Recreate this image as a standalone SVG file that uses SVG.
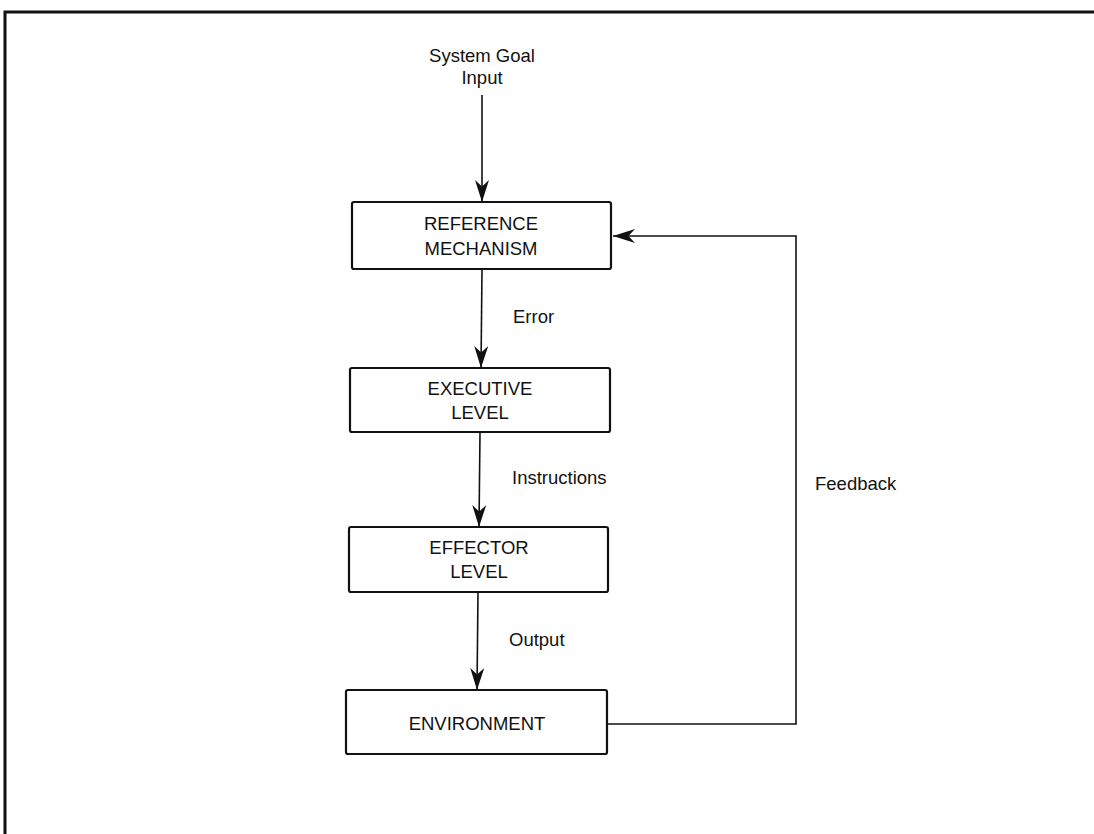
<svg xmlns="http://www.w3.org/2000/svg" width="1094" height="834" viewBox="0 0 1094 834">
<style>
.box{fill:#fff;stroke:#111;stroke-width:2.2}
.ln{fill:none;stroke:#111;stroke-width:1.6}
.t{font-family:"Liberation Sans",Arial,sans-serif;font-size:18.5px;fill:#111;text-anchor:middle}
.l{font-family:"Liberation Sans",Arial,sans-serif;font-size:18.5px;fill:#111}
</style>
<defs>
<marker id="ahv" viewBox="0 0 10 10" refX="10" refY="5" markerWidth="22" markerHeight="14" markerUnits="userSpaceOnUse" orient="auto" preserveAspectRatio="none">
<path d="M0,0 L10,5 L0,10 L3,5 Z" fill="#111"/>
</marker>
</defs>
<rect width="1094" height="834" fill="#fff"/>
<g id="frame"><path d="M5,834 V12 H1094" fill="none" stroke="#111" stroke-width="3"/></g>
<g id="connectors">
<line class="ln" x1="482" y1="95" x2="482" y2="202" marker-end="url(#ahv)"/>
<line class="ln" x1="482" y1="269" x2="481" y2="368" marker-end="url(#ahv)"/>
<line class="ln" x1="480" y1="432" x2="479" y2="527" marker-end="url(#ahv)"/>
<line class="ln" x1="478" y1="592" x2="477" y2="690" marker-end="url(#ahv)"/>
<path class="ln" d="M607,724 H796 V236 H613" marker-end="url(#ahv)"/>
</g>
<g id="input"><text class="t" x="482" y="62">System Goal</text><text class="t" x="482" y="84">Input</text></g>
<g id="reference"><rect class="box" x="352" y="202" width="259" height="67" rx="2"/><text class="t" x="481" y="230">REFERENCE</text><text class="t" x="481" y="255">MECHANISM</text></g>
<g id="executive"><rect class="box" x="350" y="368" width="260" height="64" rx="2"/><text class="t" x="480" y="395">EXECUTIVE</text><text class="t" x="480" y="419">LEVEL</text></g>
<g id="effector"><rect class="box" x="349" y="527" width="259" height="65" rx="2"/><text class="t" x="479" y="554">EFFECTOR</text><text class="t" x="479" y="578">LEVEL</text></g>
<g id="environment"><rect class="box" x="346" y="690" width="261" height="64" rx="2"/><text class="t" x="477" y="730">ENVIRONMENT</text></g>
<g id="labels">
<text class="l" x="513" y="323">Error</text>
<text class="l" x="512" y="484">Instructions</text>
<text class="l" x="509" y="646">Output</text>
<text class="l" x="815" y="490">Feedback</text>
</g>
</svg>
